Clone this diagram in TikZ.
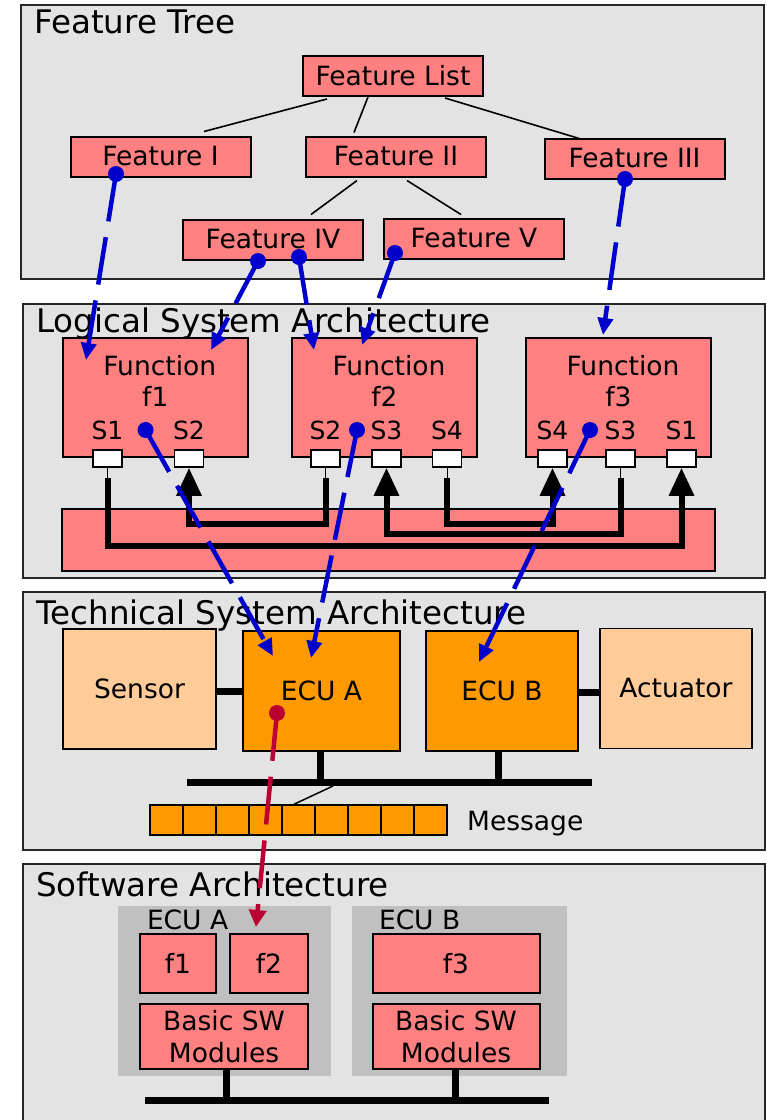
\documentclass[tikz,border=0pt]{standalone}
\usepackage{fontspec}
\setmainfont{DejaVu Sans}
\usetikzlibrary{arrows.meta,calc,positioning}

\definecolor{framegray}{RGB}{227,227,227}
\definecolor{boxpink}{RGB}{255,128,128}
\definecolor{ecuorange}{RGB}{255,153,0}
\definecolor{devorange}{RGB}{255,204,153}
\definecolor{ecugray}{RGB}{192,192,192}
\definecolor{traceblue}{RGB}{0,0,204}
\definecolor{tracered}{RGB}{187,0,51}

\newcommand{\titlesize}{\fontsize{32.5}{38}\selectfont}
\newcommand{\labsize}{\fontsize{26.5}{32}\selectfont}
\newcommand{\sigsize}{\fontsize{25}{30}\selectfont}

\begin{document}
\begin{tikzpicture}[x=1pt, y=-1pt,
	layer/.style={draw=black!85, line width=1.5pt, fill=framegray},
	layertitle/.style={anchor=base west, inner sep=0pt, font=\titlesize},
	feature/.style={draw, line width=2pt, fill=boxpink, minimum width=180pt, minimum height=40pt, inner sep=0pt, font=\labsize},
	branch/.style={line width=1.6pt},
	fnbox/.style={draw, line width=2pt, fill=boxpink, minimum width=185pt, minimum height=119pt, inner sep=0pt},
	boxtext/.style={inner sep=0pt, font=\labsize},
	port/.style={draw, line width=1.5pt, fill=white, minimum width=29pt, minimum height=17pt, inner sep=0pt},
	siglabel/.style={anchor=base, inner sep=0pt, font=\sigsize},
	stem/.style={line width=1pt},
	signal/.style={line width=6pt, -{Triangle[width=24pt,length=28pt]}},
	device/.style={draw, line width=1.5pt, fill=devorange, minimum width=153pt, minimum height=120pt, inner sep=0pt, font=\labsize},
	ecu/.style={draw, line width=2pt, fill=ecuorange, minimum width=155pt, minimum height=120pt, inner sep=0pt, font=\labsize},
	bus/.style={line width=7pt},
	cell/.style={draw, line width=1.5pt, fill=ecuorange, minimum width=33pt, minimum height=30pt, inner sep=0pt},
	area/.style={fill=ecugray, inner sep=0pt},
	swbox/.style={draw, line width=2pt, fill=boxpink, inner sep=0pt, font=\labsize, align=center},
	trace/.style={traceblue, line width=4.5pt, dash pattern=on 48pt off 16pt, -{Triangle[width=15pt,length=17pt]}},
	dot/.style={circle, fill=traceblue, minimum size=16pt, inner sep=0pt}]
	\useasboundingbox (0,0) rectangle (767,1120);

	% layers
	\draw[layer] (21,5) rectangle (764,279);
	\draw[layer] (23,304) rectangle (765,578);
	\draw[layer] (23,592) rectangle (765,850);
	\draw[layer] (23,864) rectangle (765,1124);
	\node[layertitle] (tft) at (34,33) {Feature Tree};
	\node[layertitle] (tlsa) at (36,332) {Logical System Architecture};
	\node[layertitle] (ttsa) at (36,624) {Technical System Architecture};
	\node[layertitle] (tswa) at (36,896) {Software Architecture};

	% feature tree
	\node[feature] (flist) at (393,76)    {Feature List};
	\node[feature] (fI)    at (160.5,156.5) {Feature I};
	\node[feature] (fII)   at (396,156.5)   {Feature II};
	\node[feature] (fIII)  at (634.5,158.5) {Feature III};
	\node[feature] (fIV)   at (273,239.5)   {Feature IV};
	\node[feature] (fV)    at (474,238.5)   {Feature V};

	\draw[branch] ([xshift=-66pt,yshift=-2pt]flist.south) -- ([xshift=43.5pt,yshift=4pt]fI.north);
	\draw[branch] ([xshift=-25pt]flist.south) -- ([xshift=-42pt,yshift=3pt]fII.north);
	\draw[branch] ([xshift=52pt,yshift=-1pt]flist.south) -- ([xshift=-52pt,yshift=-2pt]fIII.north);
	\draw[branch] ([xshift=-39pt,yshift=-3pt]fII.south) -- ([xshift=38pt,yshift=4pt]fIV.north);
	\draw[branch] ([xshift=11pt,yshift=-3pt]fII.south) -- ([xshift=-13pt,yshift=3pt]fV.north);

	% logical system architecture
	\node[draw, line width=1.5pt, fill=boxpink, minimum width=653pt, minimum height=62pt] (vbus) at (388.5,540) {};
	\node[fnbox] (fn1) at (155.3,397.5) {};
	\node[fnbox] (fn2) at (384.5,397.5) {};
	\node[fnbox] (fn3) at (618.5,397.5) {};
	\foreach \n in {1,2,3} {
		\node[boxtext, anchor=base] at ($(fn\n.north)+(4.5,38)$) {Function};
		\node[boxtext, anchor=base] at ($(fn\n.north)+(0,69)$) {f\n};
	}
	\foreach \p/\x/\s in {p1a/107.5/S1, p1b/189/S2, p2a/325.5/S2, p2b/386.5/S3, p2c/447/S4, p3a/552.5/S4, p3b/620.5/S3, p3c/681.5/S1} {
		\node[port] (\p) at (\x,458.5) {};
		\node[siglabel] at ($(\p.north)+(0,-10)$) {\s};
	}
	\foreach \p in {p1a,p2a,p2c,p3b}
		\draw[stem] (\p.south) -- ++(0,10);

	\draw[signal] ($(p1a.south)+(0,10)$) -- ($(p1a.south)+(0,78)$) -| (p3c.south);
	\draw[signal] ($(p2a.south)+(0,10)$) -- ($(p2a.south)+(0,56.5)$) -| (p1b.south);
	\draw[signal] ($(p3b.south)+(0,10)$) -- ($(p3b.south)+(0,66.5)$) -| (p2b.south);
	\draw[signal] ($(p2c.south)+(0,10)$) -- ($(p2c.south)+(0,56.5)$) -| (p3a.south);

	% technical system architecture
	\node[device] (sensor)   at (139.5,689) {Sensor};
	\node[ecu, minimum width=157pt] (ecuA) at (321.5,691) {ECU A};
	\node[ecu, minimum width=152pt] (ecuB) at (502,691) {ECU B};
	\node[device, minimum width=152pt] (actuator) at (676,688.5) {Actuator};

	\draw[bus] ([yshift=-2pt]sensor.east) -- ([yshift=-2pt]sensor.east -| ecuA.west);
	\draw[bus] ([yshift=-1pt]ecuB.east) -- ([yshift=-1pt]ecuB.east -| actuator.west);

	\coordinate (busL) at (187,782);
	\coordinate (busR) at (592,782);
	\coordinate (ecuBstem) at ($(ecuB.south)+(-4,0)$);
	\draw[bus] (busL) -- (busR);
	\draw[bus] ([xshift=-1pt]ecuA.south) -- ([xshift=-1pt]ecuA.south |- busL);
	\draw[bus] (ecuBstem) -- (ecuBstem |- busL);

	\foreach \i in {0,...,8}
		\node[cell] (m\i) at ({166.5+33*\i},820) {};
	\coordinate (tap) at (333,786);
	\draw[stem, line width=1.5pt] (tap) -- ($(m4.north)+(-4.5,0)$);
	\node[boxtext, anchor=base west] (msg) at (467,830) {Message};

	% software architecture
	\node[area, minimum width=213pt, minimum height=170pt] (swA) at (224.5,991) {};
	\node[area, minimum width=215pt, minimum height=170pt] (swB) at (459.5,991) {};
	\node[boxtext, anchor=base west] (swAlab) at ($(swA.north west)+(29,24)$) {ECU A};
	\node[boxtext, anchor=base west] (swBlab) at ($(swB.north west)+(27,24)$) {ECU B};

	\node[swbox, minimum width=76pt, minimum height=59pt] (swf1) at (178,963.5) {f1};
	\node[swbox, minimum width=78pt, minimum height=59pt] (swf2) at (269,963.5) {f2};
	\node[swbox, minimum width=167pt, minimum height=59pt] (swf3) at (456,963.5) {f3};
	\node[swbox, minimum width=168pt, minimum height=65pt] (bswA) at (224,1036.5) {Basic SW\\Modules};
	\node[swbox, minimum width=167pt, minimum height=65pt] (bswB) at (456,1036.5) {Basic SW\\Modules};

	\coordinate (swbusL) at (145,1100);
	\coordinate (swbusR) at (549,1100);
	\coordinate (bswAstem) at ($(bswA.south)+(2.5,0)$);
	\draw[bus] (swbusL) -- (swbusR);
	\draw[bus] (bswAstem) -- (bswAstem |- swbusL);
	\draw[bus] ([xshift=-1pt]bswB.south) -- ([xshift=-1pt]bswB.south |- swbusL);

	% traces between the layers
	\coordinate (d1) at (116,174);   \coordinate (e1) at (86,360);
	\coordinate (d2) at (258,261);   \coordinate (e2) at (211,350);
	\coordinate (d3) at (299,257);   \coordinate (e3) at (314,350);
	\coordinate (d4) at (395,253);   \coordinate (e4) at (362,345);
	\coordinate (d5) at (625,179);   \coordinate (e5) at (603,335);
	\coordinate (d6) at (145.6,430); \coordinate (e6) at (273,656);
	\coordinate (d7) at (357,430);   \coordinate (e7) at (311,658);
	\coordinate (d8) at (590,430);   \coordinate (e8) at (479,662);
	\coordinate (d9) at (277,713);   \coordinate (e9) at (256,927);
	\foreach \i in {1,...,8} {
		\draw[trace] (d\i) -- (e\i);
		\node[dot] at (d\i) {};
	}
	\draw[trace, tracered, -{Triangle[width=17pt,length=17pt]}] (d9) -- (e9);
	\node[dot, fill=tracered] at (d9) {};
\end{tikzpicture}
\end{document}
